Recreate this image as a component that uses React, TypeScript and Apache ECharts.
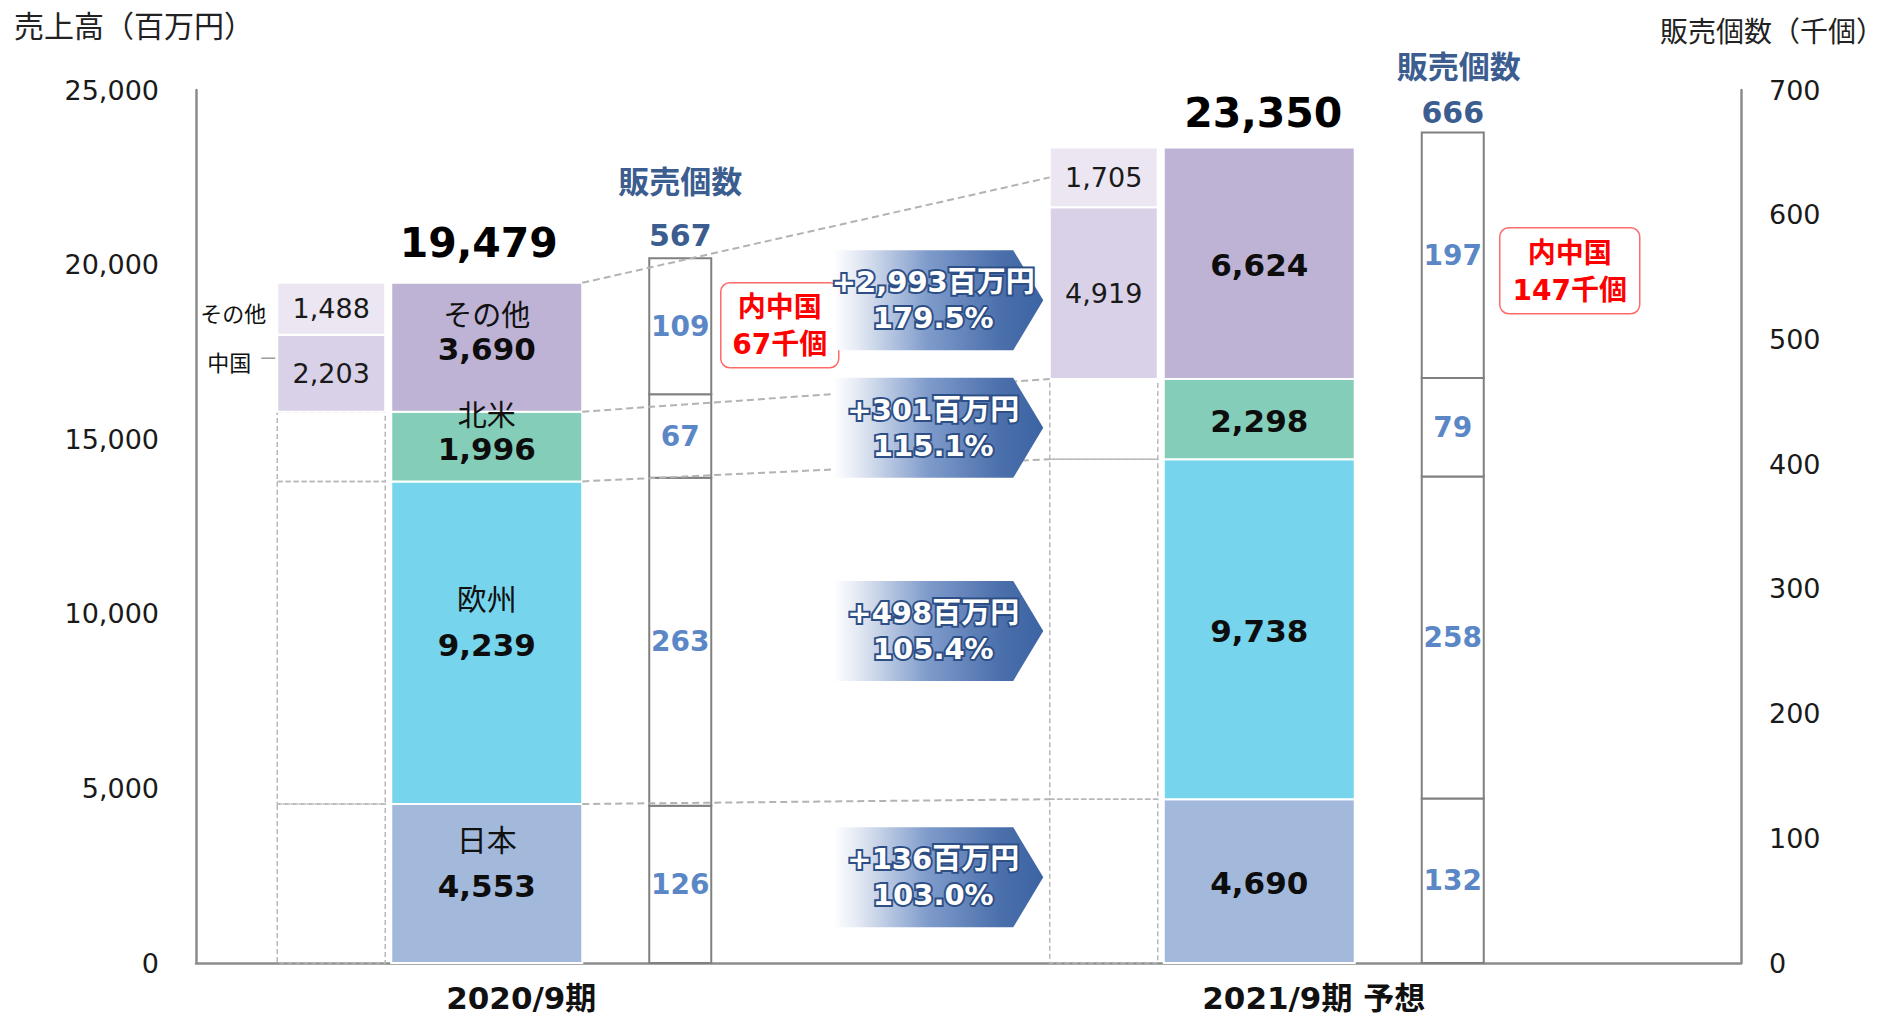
import React, { useEffect, useRef } from 'react';
import * as echarts from 'echarts';

// ---------- data ----------
const periods = ['2020/9期', '2021/9期 予想'];
const regions = ['日本', '欧州', '北米', 'その他'];
const sales2020 = [4553, 9239, 1996, 3690];
const sales2021 = [4690, 9738, 2298, 6624];
const salesTotals = [19479, 23350];
const splitNames = ['中国', 'その他'];
const split2020 = [2203, 1488];
const split2021 = [4919, 1705];
const units2020 = [126, 263, 67, 109];
const units2021 = [132, 258, 79, 197];
const unitTotals = [567, 666];
const chinaUnits = [67, 147];
const diffLabels = ['+136百万円', '+498百万円', '+301百万円', '+2,993百万円'];
const ratioLabels = ['103.0%', '105.4%', '115.1%', '179.5%'];
const salesMax = 25000;
const salesStep = 5000;
const unitsMax = 700;
const unitsStep = 100;

// ---------- styles ----------
const regionColors = ['#A3B9DB', '#76D4EC', '#84CEB9', '#BEB3D5'];
const splitColors = ['#D9D1E8', '#EBE6F2'];
const NUM = "'DejaVu Sans', 'Noto Sans CJK JP', sans-serif";
const JP = "'Noto Sans CJK JP', sans-serif";
const AXIS_GRAY = '#8c8c8c';
const DARK_BLUE = '#3B5D8F';
const MID_BLUE = '#5B87C6';

// layout offsets relative to category centre (px)
const MAIN_W = 191;
const LEFT_X = -305;
const LEFT_W = 108;
const UNIT_X = 67;
const UNIT_W = 62;
const TOTAL_DX = [-8, 4];
const TOTAL_GAP = [40, 35];

const fmt = (v: number) => v.toLocaleString('en-US');

type Item = { p: number; i: number; start: number; end: number; value: number };

function stackItems(arrs: number[][]): Item[] {
  const out: Item[] = [];
  arrs.forEach((arr, p) => {
    let acc = 0;
    arr.forEach((v, i) => {
      out.push({ p, i, start: acc, end: acc + v, value: v });
      acc += v;
    });
  });
  return out;
}

const salesByPeriod = [sales2020, sales2021];
const splitByPeriod = [split2020, split2021];
const unitsByPeriod = [units2020, units2021];

const mainItems = stackItems(salesByPeriod);
const unitItems = stackItems(unitsByPeriod);
const outlineItems = mainItems.filter((d) => d.i < 3);
const splitItems: Item[] = [];
splitByPeriod.forEach((arr, p) => {
  let acc = salesByPeriod[p].slice(0, 3).reduce((a, b) => a + b, 0);
  arr.forEach((v, i) => {
    splitItems.push({ p, i, start: acc, end: acc + v, value: v });
    acc += v;
  });
});

const seg = (p: number, i: number) => mainItems.find((d) => d.p === p && d.i === i)!;
const connectorItems = regions.map((_, k) => {
  const from = seg(0, k).end;
  let to = seg(1, k).end;
  if (k === 3) {
    const last = splitItems.filter((d) => d.p === 1)[1];
    to = (last.start + last.end) / 2;
  }
  return { from, to };
});
const arrowItems = regions.map((_, k) => ({
  m0: (seg(0, k).start + seg(0, k).end) / 2,
  m1: (seg(1, k).start + seg(1, k).end) / 2,
}));

function txt(x: number, y: number, text: string, size: number, opts: any = {}) {
  return {
    type: 'text',
    x,
    y,
    z2: 10,
    style: {
      text,
      fontSize: size,
      fontFamily: opts.family || NUM,
      fontWeight: opts.weight || 'normal',
      fill: opts.fill || '#111',
      align: opts.align || 'center',
      verticalAlign: 'middle',
      textAlign: opts.align || 'center',
      textVerticalAlign: 'middle',
      stroke: opts.stroke,
      lineWidth: opts.lineWidth,
    },
  };
}

export default function App() {
  const ref = useRef<HTMLDivElement>(null);
  useEffect(() => {
    if (!ref.current) return;
    const chart = echarts.init(ref.current, null, { renderer: 'svg' });

    const option: any = {
      animation: false,
      grid: { left: 196, right: 146, top: 90, bottom: 55 },
      xAxis: {
        type: 'category',
        data: periods,
        axisLine: { show: true, lineStyle: { color: AXIS_GRAY, width: 2.5 } },
        axisTick: { show: false },
        axisLabel: {
          interval: 0,
          margin: 19,
          formatter: (v: string, i: number) => `{p${i}|${v}}`,
          rich: {
            p0: { padding: [0, 122, 0, 0], fontSize: 31, lineHeight: 32, fontWeight: 'bold', fontFamily: NUM, color: '#111' },
            p1: { padding: [0, 82, 0, 0], fontSize: 31, lineHeight: 32, fontWeight: 'bold', fontFamily: NUM, color: '#111' },
          },
        },
      },
      yAxis: [
        {
          type: 'value',
          min: 0,
          max: salesMax,
          interval: salesStep,
          axisLine: { show: true, lineStyle: { color: AXIS_GRAY, width: 2.5 } },
          axisTick: { show: false },
          splitLine: { show: false },
          axisLabel: { margin: 37, fontSize: 27, fontFamily: NUM, color: '#1a1a1a', formatter: (v: number) => fmt(v) },
        },
        {
          type: 'value',
          position: 'right',
          min: 0,
          max: unitsMax,
          interval: unitsStep,
          axisLine: { show: true, lineStyle: { color: AXIS_GRAY, width: 2.5 } },
          axisTick: { show: false },
          splitLine: { show: false },
          axisLabel: { margin: 28, fontSize: 27, fontFamily: NUM, color: '#1a1a1a' },
        },
      ],
      series: [
        // left breakdown columns (dashed outlines)
        {
          type: 'custom',
          name: 'breakdown-outline',
          z: 2,
          xAxisIndex: 0,
          yAxisIndex: 0,
          encode: { x: 0, y: [1, 2] },
          data: outlineItems.map((d) => [d.p, d.start, d.end]),
          renderItem: (params: any, api: any) => {
            const d = outlineItems[params.dataIndex];
            const top = api.coord([d.p, d.end]);
            const bot = api.coord([d.p, d.start]);
            return {
              type: 'rect',
              shape: { x: top[0] + LEFT_X, y: top[1], width: LEFT_W, height: bot[1] - top[1] },
              style: { fill: 'none', stroke: '#b8b8b8', lineWidth: 1.5, lineDash: [5, 3] },
            };
          },
        },
        // 中国 / その他 breakdown
        {
          type: 'custom',
          name: 'breakdown',
          z: 3,
          xAxisIndex: 0,
          yAxisIndex: 0,
          encode: { x: 0, y: [1, 2] },
          data: splitItems.map((d) => [d.p, d.start, d.end]),
          renderItem: (params: any, api: any) => {
            const d = splitItems[params.dataIndex];
            const top = api.coord([d.p, d.end]);
            const bot = api.coord([d.p, d.start]);
            const x = top[0] + LEFT_X;
            const my = (top[1] + bot[1]) / 2;
            const children: any[] = [
              {
                type: 'rect',
                shape: { x, y: top[1], width: LEFT_W, height: bot[1] - top[1] },
                style: { fill: splitColors[d.i], stroke: '#fff', lineWidth: 2 },
              },
              txt(x + LEFT_W / 2, my, fmt(d.value), 27, { fill: '#1a1a1a' }),
            ];
            if (d.p === 0) {
              if (d.i === 1) {
                children.push(txt(x - 11, my + 3, splitNames[1], 22, { family: JP, align: 'right' }));
              } else {
                children.push(txt(x - 26, my - 12, splitNames[0], 22, { family: JP, align: 'right' }));
                children.push({
                  type: 'line',
                  shape: { x1: x - 16, y1: my - 15, x2: x - 2, y2: my - 15 },
                  style: { stroke: '#9a9a9a', lineWidth: 1.5 },
                });
              }
            }
            return { type: 'group', children };
          },
        },
        // main stacked bars
        {
          type: 'custom',
          name: '売上高',
          z: 3,
          xAxisIndex: 0,
          yAxisIndex: 0,
          encode: { x: 0, y: [1, 2] },
          data: mainItems.map((d) => [d.p, d.start, d.end]),
          renderItem: (params: any, api: any) => {
            const d = mainItems[params.dataIndex];
            const top = api.coord([d.p, d.end]);
            const bot = api.coord([d.p, d.start]);
            const cx = top[0];
            const my = (top[1] + bot[1]) / 2;
            const children: any[] = [
              {
                type: 'rect',
                shape: { x: cx - MAIN_W, y: top[1], width: MAIN_W, height: bot[1] - top[1] },
                style: { fill: regionColors[d.i], stroke: '#fff', lineWidth: 2 },
              },
              txt(cx - MAIN_W / 2, my + 2, fmt(d.value), 31, { weight: 'bold', fill: '#0d0d0d' }),
            ];
            if (d.p === 0) {
              const gap = d.i < 2 ? 48 : 36;
              children.push(txt(cx - MAIN_W / 2, my + 2 - gap, regions[d.i], d.i < 2 ? 30 : 29, { family: JP, fill: '#111' }));
            }
            return { type: 'group', children };
          },
        },
        // units columns
        {
          type: 'custom',
          name: '販売個数',
          z: 3,
          xAxisIndex: 0,
          yAxisIndex: 1,
          encode: { x: 0, y: [1, 2] },
          data: unitItems.map((d) => [d.p, d.start, d.end]),
          renderItem: (params: any, api: any) => {
            const d = unitItems[params.dataIndex];
            const top = api.coord([d.p, d.end]);
            const bot = api.coord([d.p, d.start]);
            const x = top[0] + UNIT_X;
            return {
              type: 'group',
              children: [
                {
                  type: 'rect',
                  shape: { x, y: top[1], width: UNIT_W, height: bot[1] - top[1] },
                  style: { fill: '#fff', stroke: '#808080', lineWidth: 2 },
                },
                txt(x + UNIT_W / 2, (top[1] + bot[1]) / 2, fmt(d.value), 28, { weight: 'bold', fill: MID_BLUE }),
              ],
            };
          },
        },
        // connector dashed lines
        {
          type: 'custom',
          name: 'connectors',
          z: 4,
          xAxisIndex: 0,
          yAxisIndex: 0,
          data: connectorItems.map((c) => [0, c.from, c.to]),
          renderItem: (params: any, api: any) => {
            const c = connectorItems[params.dataIndex];
            const a = api.coord([0, c.from]);
            const b = api.coord([1, c.to]);
            return {
              type: 'line',
              shape: { x1: a[0], y1: a[1], x2: b[0] + LEFT_X, y2: b[1] },
              style: { stroke: '#b3b3b3', lineWidth: 2, lineDash: [7, 4] },
            };
          },
        },
        // growth arrows
        {
          type: 'custom',
          name: 'growth',
          z: 5,
          xAxisIndex: 0,
          yAxisIndex: 0,
          data: arrowItems.map((a) => [0, a.m0, a.m1]),
          renderItem: (params: any, api: any) => {
            const k = params.dataIndex;
            const a = api.coord([0, arrowItems[k].m0]);
            const b = api.coord([1, arrowItems[k].m1]);
            const cy = (a[1] + b[1]) / 2 - 5;
            const x0 = a[0] + 251;
            const x1 = a[0] + 431;
            const x2 = a[0] + 461;
            const h = 50;
            const tx = x0 + 100;
            const grad = new echarts.graphic.LinearGradient(0, 0, 1, 0, [
              { offset: 0, color: '#ffffff' },
              { offset: 0.12, color: '#e3e9f3' },
              { offset: 0.45, color: '#7f9bcb' },
              { offset: 0.8, color: '#4a6fab' },
              { offset: 1, color: '#3c63a3' },
            ]);
            const shadowOpts = { weight: 'bold', fill: '#2e4f86', stroke: '#2e4f86', lineWidth: 4 };
            const whiteOpts = { weight: 'bold', fill: '#ffffff' };
            return {
              type: 'group',
              children: [
                {
                  type: 'polygon',
                  shape: { points: [[x0, cy - h], [x1, cy - h], [x2, cy], [x1, cy + h], [x0, cy + h]] },
                  style: { fill: grad },
                },
                txt(tx, cy - 18, diffLabels[k], 29, shadowOpts),
                txt(tx, cy + 18, ratioLabels[k], 29, shadowOpts),
                txt(tx, cy - 18, diffLabels[k], 29, whiteOpts),
                txt(tx, cy + 18, ratioLabels[k], 29, whiteOpts),
              ],
            };
          },
        },
        // sales totals
        {
          type: 'custom',
          name: '売上高合計',
          z: 6,
          xAxisIndex: 0,
          yAxisIndex: 0,
          data: salesTotals.map((v, p) => [p, v]),
          renderItem: (params: any, api: any) => {
            const p = params.dataIndex;
            const pt = api.coord([p, salesTotals[p]]);
            return txt(pt[0] - MAIN_W / 2 + TOTAL_DX[p], pt[1] - TOTAL_GAP[p], fmt(salesTotals[p]), 41, { weight: 'bold', fill: '#000' });
          },
        },
        // unit totals + header
        {
          type: 'custom',
          name: '販売個数合計',
          z: 6,
          xAxisIndex: 0,
          yAxisIndex: 1,
          data: unitTotals.map((v, p) => [p, v]),
          renderItem: (params: any, api: any) => {
            const p = params.dataIndex;
            const pt = api.coord([p, unitTotals[p]]);
            const cx = pt[0] + UNIT_X + UNIT_W / 2;
            const ty = pt[1] - 20;
            return {
              type: 'group',
              children: [
                txt(cx, ty, fmt(unitTotals[p]), 30, { weight: 'bold', fill: DARK_BLUE }),
                txt(cx + (p === 0 ? 0 : 6), ty - (p === 0 ? 56 : 48), '販売個数', 31, { weight: 'bold', fill: DARK_BLUE, family: JP }),
              ],
            };
          },
        },
      ],
      graphic: [
        {
          type: 'text',
          left: 14,
          top: 9,
          style: { text: '売上高（百万円）', font: `30px ${JP}`, fill: '#222' },
        },
        {
          type: 'text',
          left: 1660,
          top: 16,
          style: { text: '販売個数（千個）', font: `28px ${JP}`, fill: '#222' },
        },
        {
          type: 'group',
          left: 720,
          top: 282,
          z: 10,
          children: [
            { type: 'rect', shape: { x: 0, y: 0, width: 118, height: 85, r: 9 }, style: { fill: '#fff', stroke: '#ff6b6b', lineWidth: 1.5 } },
            { type: 'text', x: 59, y: 25, style: { text: '内中国', font: `bold 28px ${NUM}`, fill: '#ff0000', align: 'center', verticalAlign: 'middle', textAlign: 'center', textVerticalAlign: 'middle' } },
            { type: 'text', x: 59, y: 62, style: { text: `${chinaUnits[0]}千個`, font: `bold 28px ${NUM}`, fill: '#ff0000', align: 'center', verticalAlign: 'middle', textAlign: 'center', textVerticalAlign: 'middle' } },
          ],
        },
        {
          type: 'group',
          left: 1499,
          top: 227,
          z: 10,
          children: [
            { type: 'rect', shape: { x: 0, y: 0, width: 140, height: 86, r: 9 }, style: { fill: '#fff', stroke: '#ff6b6b', lineWidth: 1.5 } },
            { type: 'text', x: 70, y: 26, style: { text: '内中国', font: `bold 28px ${NUM}`, fill: '#ff0000', align: 'center', verticalAlign: 'middle', textAlign: 'center', textVerticalAlign: 'middle' } },
            { type: 'text', x: 70, y: 63, style: { text: `${chinaUnits[1]}千個`, font: `bold 28px ${NUM}`, fill: '#ff0000', align: 'center', verticalAlign: 'middle', textAlign: 'center', textVerticalAlign: 'middle' } },
          ],
        },
      ],
    };

    chart.setOption(option);
    return () => chart.dispose();
  }, []);

  return <div ref={ref} style={{ position: 'fixed', left: 0, top: 0, width: '1887px', height: '1018px', background: '#fff' }} />;
}
